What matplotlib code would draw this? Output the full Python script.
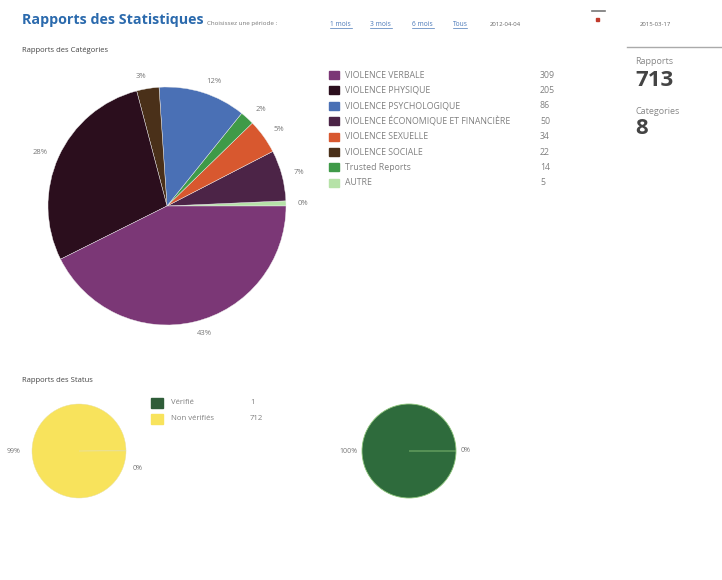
import math
import matplotlib
matplotlib.use("Agg")
import matplotlib.pyplot as plt
from matplotlib.patches import Rectangle
from matplotlib.lines import Line2D

plt.rcParams['font.family'] = ['Open Sans', 'DejaVu Sans']

W, H = 722, 580

# categories (legend order) and report counts
categories = ['VIOLENCE VERBALE', 'VIOLENCE PHYSIQUE', 'VIOLENCE PSYCHOLOGIQUE',
              'VIOLENCE ÉCONOMIQUE ET FINANCIÈRE', 'VIOLENCE SEXUELLE',
              'VIOLENCE SOCIALE', 'Trusted Reports', 'AUTRE']
counts = [309, 205, 86, 50, 34, 22, 14, 5]
# percentages as printed on the chart
pct_text = ['43%', '28%', '12%', '7%', '5%', '3%', '2%', '0%']
cat_colors = ['#7b3776', '#2b0e1d', '#4a70b5', '#4c2447', '#d8582f',
              '#4a3019', '#3f9a48', '#b6e2a8']
# order of the slices, counter-clockwise from 3 o'clock
pie_order = [7, 3, 4, 6, 2, 5, 1, 0]

status_labels = ['Vérifié', 'Non vérifiés']
status_counts = [1, 712]
status_colors = ['#2f5d39', '#f8e35c']
# second small pie (all green)
status2_counts = [713, 0]

total_reports = 713
total_categories = 8

fig = plt.figure(figsize=(W / 100, H / 100), dpi=100)
fig.patch.set_facecolor('white')


def fx(x):
    return x / W


def fy(y):
    return 1 - y / H


def pie_axes(cx, cy, r):
    ax = fig.add_axes([fx(cx - r), fy(cy + r), 2 * r / W, 2 * r / H])
    ax.axis('off')
    return ax


def fix_limits(ax):
    ax.set_xlim(-1, 1)
    ax.set_ylim(-1, 1)
    ax.set_aspect('auto')


def pct_labels(vals):
    s = sum(vals)
    return ['%d%%' % math.floor(v * 100 / s) for v in vals]


# header
fig.text(fx(22), fy(20), 'Rapports des Statistiques', fontsize=10.3, fontweight='bold',
         color='#2b6aad', va='center')
fig.text(fx(207), fy(24), 'Choisissez une période :', fontsize=4.5, color='#777777', va='center')
for txt, x in zip(['1 mois', '3 mois', '6 mois', 'Tous'], [330, 370, 412, 453]):
    fig.text(fx(x), fy(24), txt, fontsize=4.8, color='#4a78b8', va='center')
    fig.add_artist(Line2D([fx(x), fx(x + 3.6 * len(txt))], [fy(28), fy(28)],
                          color='#4a78b8', lw=0.5))
fig.text(fx(490), fy(24), '2012-04-04', fontsize=4.3, color='#666666', va='center')
fig.text(fx(640), fy(25), '2015-03-17', fontsize=4.3, color='#666666', va='center')
fig.add_artist(Line2D([fx(592), fx(605)], [fy(11), fy(11)], color='#777777', lw=1.2))
fig.add_artist(Rectangle((fx(596), fy(21)), 3 / W, 3 / H, color='#c0392b',
                         transform=fig.transFigure))

# right side summary
fig.add_artist(Line2D([fx(627), fx(722)], [fy(47), fy(47)], color='#aaaaaa', lw=1))
fig.text(fx(635), fy(61), 'Rapports', fontsize=6.5, color='#888888', va='center')
fig.text(fx(635), fy(80), str(total_reports), fontsize=16, fontweight='bold',
         color='#444444', va='center')
fig.text(fx(635), fy(111), 'Categories', fontsize=6.5, color='#888888', va='center')
fig.text(fx(635), fy(129), str(total_categories), fontsize=16, fontweight='bold',
         color='#444444', va='center')

# categories pie
fig.text(fx(22), fy(51), 'Rapports des Catégories', fontsize=5.5, color='#444444', va='center')
ax = pie_axes(167, 206, 119)
vals = [counts[i] for i in pie_order]
cols = [cat_colors[i] for i in pie_order]
labs = [pct_text[i] for i in pie_order]
ax.pie(vals, colors=cols, labels=labs, startangle=0,
       counterclock=True, radius=1, labeldistance=1.1,
       wedgeprops=dict(linewidth=0.3, edgecolor='#eeeeee'),
       textprops=dict(fontsize=5.5, color='#777777'))
fix_limits(ax)

# categories legend
for i, (name, n, c) in enumerate(zip(categories, counts, cat_colors)):
    y = 75 + i * 15.4
    fig.add_artist(Rectangle((fx(329), fy(y + 4)), 10 / W, 8 / H, color=c,
                             transform=fig.transFigure))
    fig.text(fx(345), fy(y), name, fontsize=6.3, color='#808080', va='center')
    fig.text(fx(540), fy(y), str(n), fontsize=6.3, color='#808080', va='center')

# status
fig.text(fx(22), fy(380), 'Rapports des Status', fontsize=5.5, color='#444444', va='center')
ax2 = pie_axes(79, 451, 47)
w2, t2 = ax2.pie(status_counts, colors=status_colors, labels=pct_labels(status_counts),
                 startangle=0, radius=1, labeldistance=1.25,
                 wedgeprops=dict(linewidth=0.3, edgecolor='#e8e0a0'),
                 textprops=dict(fontsize=5, color='#777777'))
fix_limits(ax2)
t2[0].set_position((1.15, -0.38))
t2[0].set_horizontalalignment('left')

for i, (name, n, c) in enumerate(zip(status_labels, status_counts, status_colors)):
    y = 403 + i * 16
    fig.add_artist(Rectangle((fx(151), fy(y + 5)), 12 / W, 10 / H, color=c,
                             transform=fig.transFigure))
    fig.text(fx(171), fy(y), name, fontsize=5.6, color='#808080', va='center')
    fig.text(fx(250), fy(y), str(n), fontsize=5.6, color='#808080', va='center')

ax3 = pie_axes(409, 451, 47)
ax3.pie(status2_counts, colors=['#2e6b3c', '#2e6b3c'], labels=pct_labels(status2_counts),
        startangle=0, radius=1, labeldistance=1.1,
        wedgeprops=dict(linewidth=0.6, edgecolor='#8cc47a'),
        textprops=dict(fontsize=5, color='#777777'))
fix_limits(ax3)

fig.savefig('out.png', dpi=100, facecolor='white')
